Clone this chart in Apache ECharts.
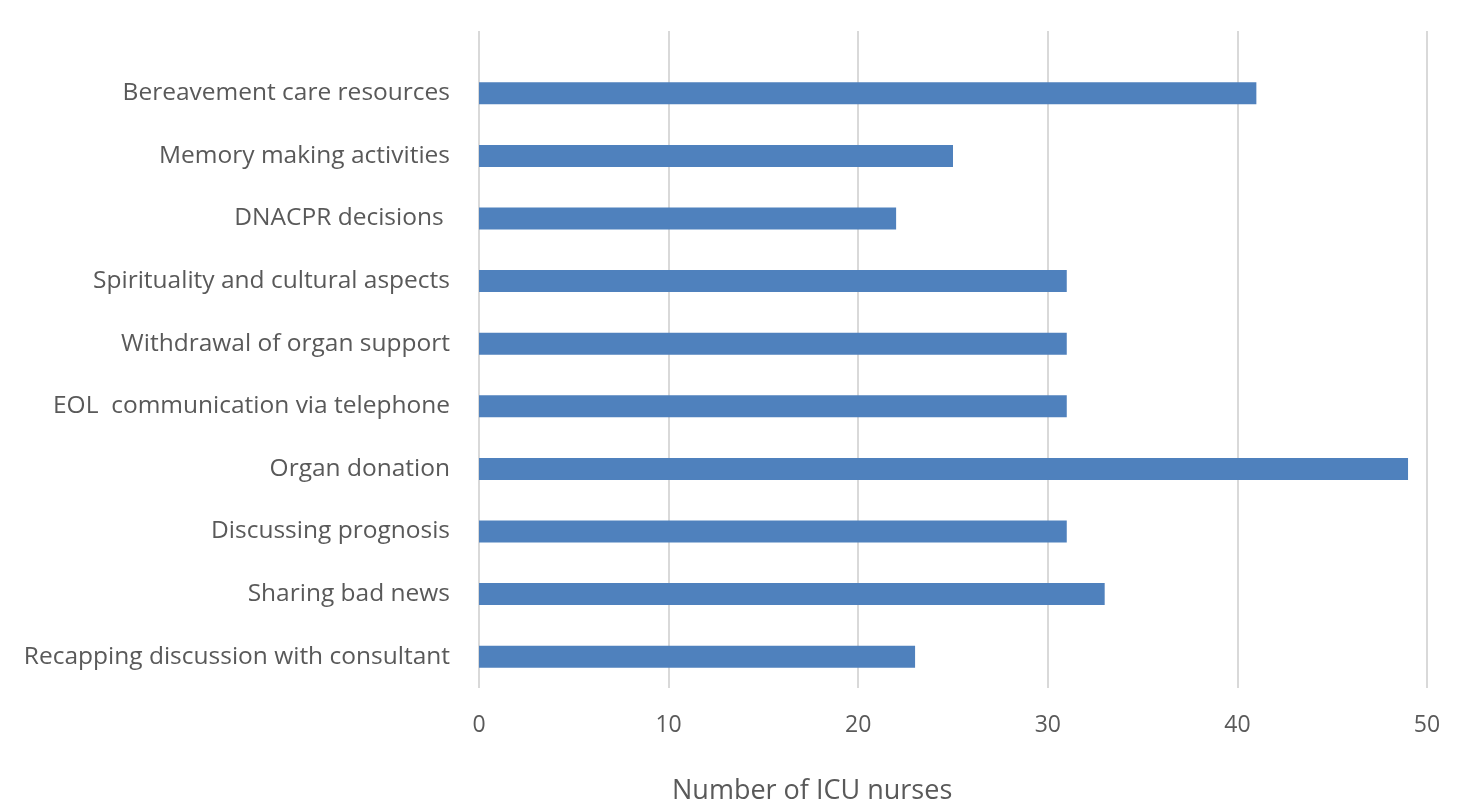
<!DOCTYPE html>
<html>
<head>
<meta charset="utf-8">
<script src="https://cdn.jsdelivr.net/npm/echarts@6/dist/echarts.min.js"></script>
<style>
html,body{margin:0;padding:0;background:#fff;}
#chart{width:1460px;height:805px;}
</style>
</head>
<body>
<div id="chart"></div>
<script>
// Data (top to bottom as in the picture)
const categories = [
  "Bereavement care resources",
  "Memory making activities",
  "DNACPR decisions ",
  "Spirituality and cultural aspects",
  "Withdrawal of organ support",
  "EOL  communication via telephone",
  "Organ donation",
  "Discussing prognosis",
  "Sharing bad news",
  "Recapping discussion with consultant"
];
const nurses = [41, 25, 22, 31, 31, 31, 49, 31, 33, 23];
const xTicks = [0, 10, 20, 30, 40, 50];
const xTitle = "Number of ICU nurses";

const FONT = "'Open Sans'";
const TXT = "#595959";
const GRID = "#d9d9d9";

const chart = echarts.init(document.getElementById('chart'));
chart.setOption({
  animation: false,
  backgroundColor: '#ffffff',
  grid: [
    {left: 479, right: 33, top: 62, bottom: 117, containLabel: false},
    {left: 479, right: 33, top: 31, height: 31, containLabel: false}
  ],
  xAxis: [
    {
      type: 'value', gridIndex: 0,
      min: xTicks[0], max: xTicks[xTicks.length - 1], interval: 10,
      axisLine: {show: false}, axisTick: {show: false},
      splitLine: {show: true, lineStyle: {color: GRID, width: 2}},
      axisLabel: {color: TXT, fontFamily: FONT, fontSize: 23, margin: 26}
    },
    {
      type: 'value', gridIndex: 1,
      min: xTicks[0], max: xTicks[xTicks.length - 1], interval: 10,
      axisLine: {show: false}, axisTick: {show: false},
      splitLine: {show: true, lineStyle: {color: GRID, width: 2}},
      axisLabel: {show: false}
    }
  ],
  yAxis: [
    {
      type: 'category', gridIndex: 0, data: categories, inverse: true,
      axisLine: {show: false}, axisTick: {show: false},
      axisLabel: {color: TXT, fontFamily: FONT, fontSize: 24.5, margin: 29}
    },
    {
      type: 'category', gridIndex: 1, data: [''], show: false
    }
  ],
  series: [{
    type: 'bar', xAxisIndex: 0, yAxisIndex: 0,
    data: nurses, barWidth: 22,
    itemStyle: {color: '#4f81bd'}
  }],
  graphic: [{
    type: 'text', left: 672, top: 778,
    style: {text: xTitle, fill: TXT, font: '27px ' + FONT}
  }]
});
</script>
</body>
</html>
